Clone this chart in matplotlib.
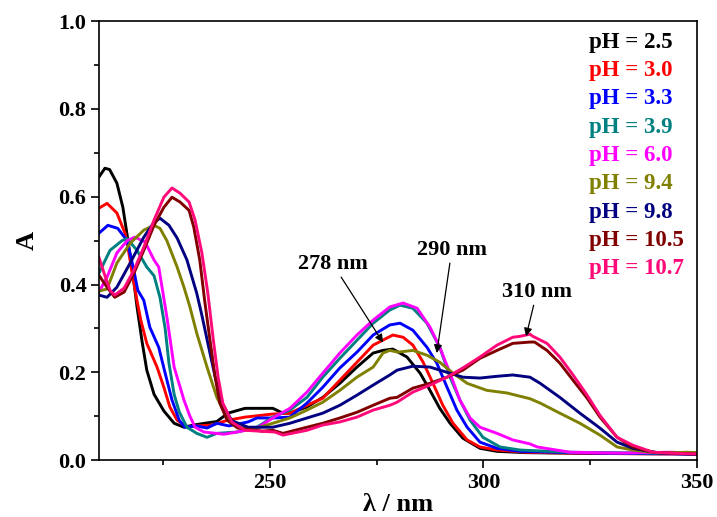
import matplotlib
matplotlib.use("Agg")
import matplotlib.pyplot as plt
from matplotlib.ticker import MultipleLocator

plt.rcParams["font.family"] = ["Liberation Serif", "DejaVu Serif"]
plt.rcParams["font.weight"] = "bold"

# Absorption spectra (wavelength in nm, absorbance) at each pH
wl_25 = [210, 211.4, 212.5, 214.2, 215.6, 216.8, 218.0, 218.9, 220.1, 221.2, 222.9, 225.2,
         227.6, 229.9, 232.2, 234.8, 237.6, 240.2, 244.2, 250.7, 253.1, 254.7, 258.7, 262.4,
         266.4, 270.4, 274.2, 276.5, 278.8, 282.1, 285.2, 287.5, 289.8, 292.2, 295.2, 299.2,
         303.2, 310, 320, 330, 340, 350]
a_25 = [0.645, 0.665, 0.662, 0.631, 0.576, 0.50, 0.42, 0.35, 0.27, 0.205, 0.15, 0.112,
        0.084, 0.075, 0.08, 0.084, 0.088, 0.107, 0.118, 0.118, 0.107, 0.107, 0.121, 0.143,
        0.175, 0.212, 0.244, 0.25, 0.253, 0.235, 0.198, 0.159, 0.118, 0.084, 0.050, 0.027,
        0.02, 0.017, 0.016, 0.015, 0.015, 0.015]

wl_30 = [210, 211.9, 214.2, 216.1, 216.8, 217.7, 218.9, 219.8, 221.2, 223.6, 225.2, 226.6,
         228.3, 230.6, 233, 236.5, 240.2, 244.2, 250.7, 254.7, 258.7, 262.4, 266.4, 270.4,
         274.2, 278.8, 281.2, 283.5, 285.9, 288.2, 290.5, 292.9, 296.2, 299.2, 303.2, 310,
         320, 330, 340, 350]
a_30 = [0.574, 0.585, 0.563, 0.517, 0.485, 0.43, 0.364, 0.319, 0.266, 0.212, 0.166, 0.121,
        0.091, 0.075, 0.078, 0.08, 0.091, 0.098, 0.105, 0.107, 0.125, 0.141, 0.182, 0.223,
        0.262, 0.285, 0.28, 0.262, 0.223, 0.175, 0.125, 0.084, 0.046, 0.030, 0.023, 0.018,
        0.016, 0.015, 0.014, 0.014]

wl_33 = [210, 212.1, 214.4, 216.6, 218.0, 219.1, 220.5, 221.9, 224.0, 225.5, 227.1, 228.8,
         230.1, 232.9, 235.3, 237.6, 240.4, 244.9, 247, 250.7, 254.7, 258.7, 262.4, 266.4,
         270.4, 274.2, 278.1, 280.5, 283.5, 286.8, 289.1, 291.5, 293.8, 296.2, 299.2, 303.2,
         308.6, 320, 335, 350]
a_33 = [0.517, 0.535, 0.528, 0.50, 0.44, 0.387, 0.364, 0.303, 0.257, 0.198, 0.137, 0.091,
        0.075, 0.078, 0.073, 0.084, 0.078, 0.087, 0.096, 0.096, 0.098, 0.130, 0.166, 0.21,
        0.246, 0.285, 0.308, 0.312, 0.296, 0.257, 0.221, 0.166, 0.114, 0.075, 0.041, 0.027,
        0.02, 0.017, 0.015, 0.014]

wl_39 = [210, 212.6, 215.4, 216.6, 218.9, 221.2, 222.9, 224.3, 225.5, 226.4, 227.6, 228.8,
         230.6, 232.9, 235.3, 237.6, 242.3, 247.0, 250.7, 254.7, 258.7, 262.4, 266.4, 270.4,
         274.2, 278.1, 280.5, 283.5, 286.8, 289.8, 292.2, 294.5, 296.9, 299.9, 303.9, 308.6,
         320, 330, 340, 350]
a_39 = [0.426, 0.478, 0.50, 0.505, 0.478, 0.44, 0.42, 0.37, 0.30, 0.22, 0.15, 0.11,
        0.075, 0.061, 0.052, 0.061, 0.064, 0.075, 0.098, 0.114, 0.143, 0.189, 0.232, 0.273,
        0.312, 0.342, 0.353, 0.346, 0.312, 0.257, 0.189, 0.137, 0.091, 0.052, 0.030, 0.023,
        0.018, 0.017, 0.016, 0.016]

wl_60 = [210, 211.9, 214.2, 216.6, 218.4, 220.8, 222.9, 224.0, 225.0, 226.0, 227.6, 229.9,
         231.3, 232.5, 234.6, 239.3, 242.3, 247.0, 250.7, 254.7, 258.7, 262.4, 266.4, 270.4,
         274.2, 278.1, 281.2, 284.5, 287.5, 289.8, 292.2, 294.5, 296.9, 299.2, 303.2, 306.9,
         310.9, 312.6, 320.3, 332, 343.7, 350]
a_60 = [0.383, 0.417, 0.472, 0.50, 0.508, 0.497, 0.456, 0.44, 0.38, 0.32, 0.212, 0.137,
        0.10, 0.075, 0.064, 0.059, 0.064, 0.073, 0.096, 0.118, 0.155, 0.198, 0.244, 0.285,
        0.319, 0.349, 0.358, 0.346, 0.303, 0.257, 0.198, 0.137, 0.096, 0.075, 0.061, 0.046,
        0.037, 0.030, 0.018, 0.016, 0.018, 0.016]

wl_94 = [210, 211.9, 214.2, 217.3, 220.5, 222.9, 224.3, 225.9, 228.3, 229.9, 231.3, 232.9,
         235.3, 237.6, 240.0, 242.3, 247.0, 250.7, 254.7, 258.7, 262.4, 266.4, 270.4, 274.2,
         276.5, 278.1, 280, 283.5, 286.8, 289.8, 292.9, 296.2, 300.8, 305.5, 310.9, 313.3,
         317.9, 322.6, 327.3, 331.3, 335.0, 341.3, 347.7, 350]
a_94 = [0.385, 0.39, 0.449, 0.494, 0.524, 0.535, 0.528, 0.50, 0.44, 0.394, 0.349, 0.289,
        0.212, 0.143, 0.098, 0.075, 0.073, 0.084, 0.096, 0.114, 0.132, 0.159, 0.189, 0.212,
        0.244, 0.25, 0.246, 0.25, 0.239, 0.223, 0.198, 0.175, 0.159, 0.153, 0.140, 0.130,
        0.107, 0.084, 0.057, 0.030, 0.023, 0.016, 0.018, 0.017]

wl_98 = [210, 211.9, 214.2, 217.3, 220.5, 222.9, 224.3, 226.4, 228.3, 230.6, 232.9, 234.1,
         235.5, 237.2, 238.8, 241.1, 244.9, 250.7, 254.7, 258.7, 262.4, 266.4, 270.4, 274.2,
         278.1, 279.8, 283.5, 287.5, 291.5, 295.2, 299.2, 303.2, 306.9, 310.9, 313.3, 317.9,
         322.6, 327.3, 331.3, 335.0, 341.3, 350]
a_98 = [0.376, 0.371, 0.394, 0.449, 0.508, 0.542, 0.551, 0.535, 0.506, 0.456, 0.38, 0.33,
        0.266, 0.19, 0.13, 0.09, 0.075, 0.075, 0.084, 0.096, 0.107, 0.125, 0.148, 0.171,
        0.194, 0.205, 0.214, 0.212, 0.200, 0.189, 0.187, 0.191, 0.194, 0.189, 0.175, 0.143,
        0.107, 0.073, 0.041, 0.027, 0.016, 0.013]

wl_105 = [210, 211.9, 213.7, 215.9, 218.2, 220.5, 222.9, 225.2, 227.1, 229.0, 231.1, 232.2,
          233.6, 234.8, 236.0, 237.2, 238.3, 240.0, 242.5, 248.2, 250.7, 253.1, 258.7, 262.4,
          266.4, 270.4, 274.2, 278.1, 279.8, 283.5, 287.5, 291.5, 295.2, 299.2, 303.2, 306.9,
          310.9, 312, 314.9, 317.9, 321.0, 324.3, 327.3, 331.3, 335.0, 339.7, 343.7, 350]
a_105 = [0.421, 0.394, 0.371, 0.383, 0.426, 0.478, 0.535, 0.576, 0.599, 0.588, 0.569, 0.531,
         0.456, 0.36, 0.273, 0.19, 0.13, 0.091, 0.073, 0.066, 0.068, 0.061, 0.075, 0.084,
         0.096, 0.109, 0.125, 0.141, 0.143, 0.164, 0.175, 0.189, 0.205, 0.232, 0.25, 0.266,
         0.269, 0.269, 0.25, 0.221, 0.182, 0.141, 0.098, 0.052, 0.030, 0.018, 0.016, 0.014]

wl_107 = [210, 211.2, 212.6, 213.7, 215.9, 218.2, 220.5, 222.9, 225.2, 227.1, 229.0, 231.1,
          232.5, 234.1, 235.5, 236.7, 237.9, 239.0, 241.1, 244.2, 251.2, 253.1, 258.7, 262.4,
          266.4, 270.4, 274.2, 278.1, 279.8, 283.5, 287.5, 291.5, 295.2, 299.2, 303.2, 306.9,
          308.6, 310.9, 311.6, 314.9, 317.9, 321.0, 324.3, 327.3, 331.3, 335.0, 339.7, 343.7, 350]
a_107 = [0.462, 0.426, 0.387, 0.376, 0.392, 0.433, 0.485, 0.547, 0.599, 0.620, 0.608, 0.588,
         0.547, 0.472, 0.38, 0.28, 0.189, 0.13, 0.087, 0.068, 0.064, 0.057, 0.068, 0.08,
         0.087, 0.098, 0.114, 0.125, 0.132, 0.155, 0.171, 0.189, 0.21, 0.235, 0.262, 0.28,
         0.282, 0.287, 0.282, 0.266, 0.235, 0.194, 0.148, 0.102, 0.052, 0.034, 0.018, 0.016, 0.014]

ph_labels = ["pH = 2.5", "pH = 3.0", "pH = 3.3", "pH = 3.9", "pH = 6.0",
             "pH = 9.4", "pH = 9.8", "pH = 10.5", "pH = 10.7"]
colors = ["#000000", "#FF0000", "#0000FF", "#008080", "#FF00FF",
          "#808000", "#000080", "#800000", "#FF0A78"]
spectra = [(wl_25, a_25), (wl_30, a_30), (wl_33, a_33), (wl_39, a_39), (wl_60, a_60),
           (wl_94, a_94), (wl_98, a_98), (wl_105, a_105), (wl_107, a_107)]

fig = plt.figure(figsize=(7.17, 5.17), dpi=100)
ax = fig.add_axes([0.138, 0.110, 0.834, 0.849])

for (wl, a), c in zip(spectra, colors):
    ax.plot(wl, a, color=c, lw=2.1, solid_joinstyle="round")

ax.set_xlim(210, 350)
ax.set_ylim(0, 1.0)
ax.xaxis.set_major_locator(MultipleLocator(50))
ax.xaxis.set_minor_locator(MultipleLocator(25))
ax.yaxis.set_major_locator(MultipleLocator(0.2))
ax.yaxis.set_minor_locator(MultipleLocator(0.1))
ax.yaxis.set_major_formatter(matplotlib.ticker.FormatStrFormatter("%.1f"))
ax.tick_params(which="both", direction="out", top=False, right=False, width=1.2,
               labelsize=16, pad=3)
ax.tick_params(which="major", length=6)
ax.tick_params(which="minor", length=3.5)
for sp in ax.spines.values():
    sp.set_linewidth(1.2)

ax.set_xlabel("λ / nm", fontsize=19, fontweight="bold", labelpad=0)
ax.set_ylabel("A", fontsize=19, fontweight="bold", labelpad=14)

# pH key, coloured text down the right side
for i, (lab, c) in enumerate(zip(ph_labels, colors)):
    ax.text(0.82, 0.952 - i * 0.0645, lab, color=c, fontsize=16.5, fontweight="bold",
            transform=ax.transAxes, ha="left", va="center")

arrow = dict(arrowstyle="-|>", color="black", lw=0.9, mutation_scale=12, shrinkA=0, shrinkB=0)
ax.annotate("278 nm", xy=(276.5, 0.268), xytext=(264.8, 0.446), fontsize=16,
            fontweight="bold", ha="center", va="center", arrowprops=arrow)
ax.annotate("290 nm", xy=(289.1, 0.244), xytext=(292.6, 0.478), fontsize=16,
            fontweight="bold", ha="center", va="center", arrowprops=arrow)
ax.annotate("310 nm", xy=(310.0, 0.282), xytext=(312.5, 0.382), fontsize=16,
            fontweight="bold", ha="center", va="center", arrowprops=arrow)

fig.savefig("out.png", dpi=100)
